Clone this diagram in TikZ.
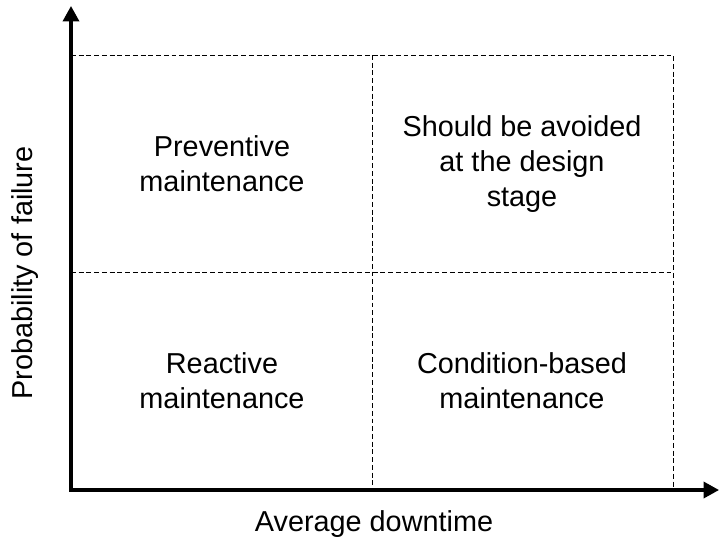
\documentclass[tikz,border=0pt]{standalone}
\usepackage{fontspec}
\setmainfont{Liberation Sans}
\usetikzlibrary{positioning, arrows.meta}

\begin{document}
\begin{tikzpicture}[x=0.025cm, y=-0.025cm,
  cell/.style={align=center, font=\fontsize{20.5}{24.8}\selectfont},
  axlabel/.style={font=\fontsize{20.5}{24.8}\selectfont},
  grid/.style={dash pattern=on 3.5pt off 2pt, line width=0.7pt},
  axis/.style={line width=2.2pt, {Triangle[length=11pt,width=11.5pt]}-{Triangle[length=11pt,width=11.5pt]}}]
  \useasboundingbox (0,0) rectangle (720,542);
  \coordinate (o) at (71,490);
  \coordinate (ytop) at (71,6);
  \coordinate (xend) at (719,490);
  % corners of the four quadrants
  \coordinate (tl) at (71,55);
  \coordinate (tm) at (372,55);
  \coordinate (tr) at (673,55);
  \coordinate (ml) at (71,272);
  \coordinate (mr) at (673,272);
  \coordinate (bm) at (372,490);
  \coordinate (br) at (673,490);
  \draw[grid] (tl) -- (tr) -- (br);
  \draw[grid] (ml) -- (mr);
  \draw[grid] (tm) -- (bm);
  \draw[axis] (ytop) -- (o) -- (xend);
  % quadrant texts
  \node[cell] (prev) at (222,164) {Preventive\\maintenance};
  \node[cell] (avoid) at (522,164) {Should be avoided\\at the design\\stage};
  \node[cell] (react) at (222,381) {Reactive\\maintenance};
  \node[cell] (cbm) at (522,381) {Condition-based\\maintenance};
  % axis titles
  \node[axlabel] (xlab) at (374,524) {Average downtime};
  \node[axlabel, rotate=90] (ylab) at (25,273) {Probability of failure};
\end{tikzpicture}
\end{document}
